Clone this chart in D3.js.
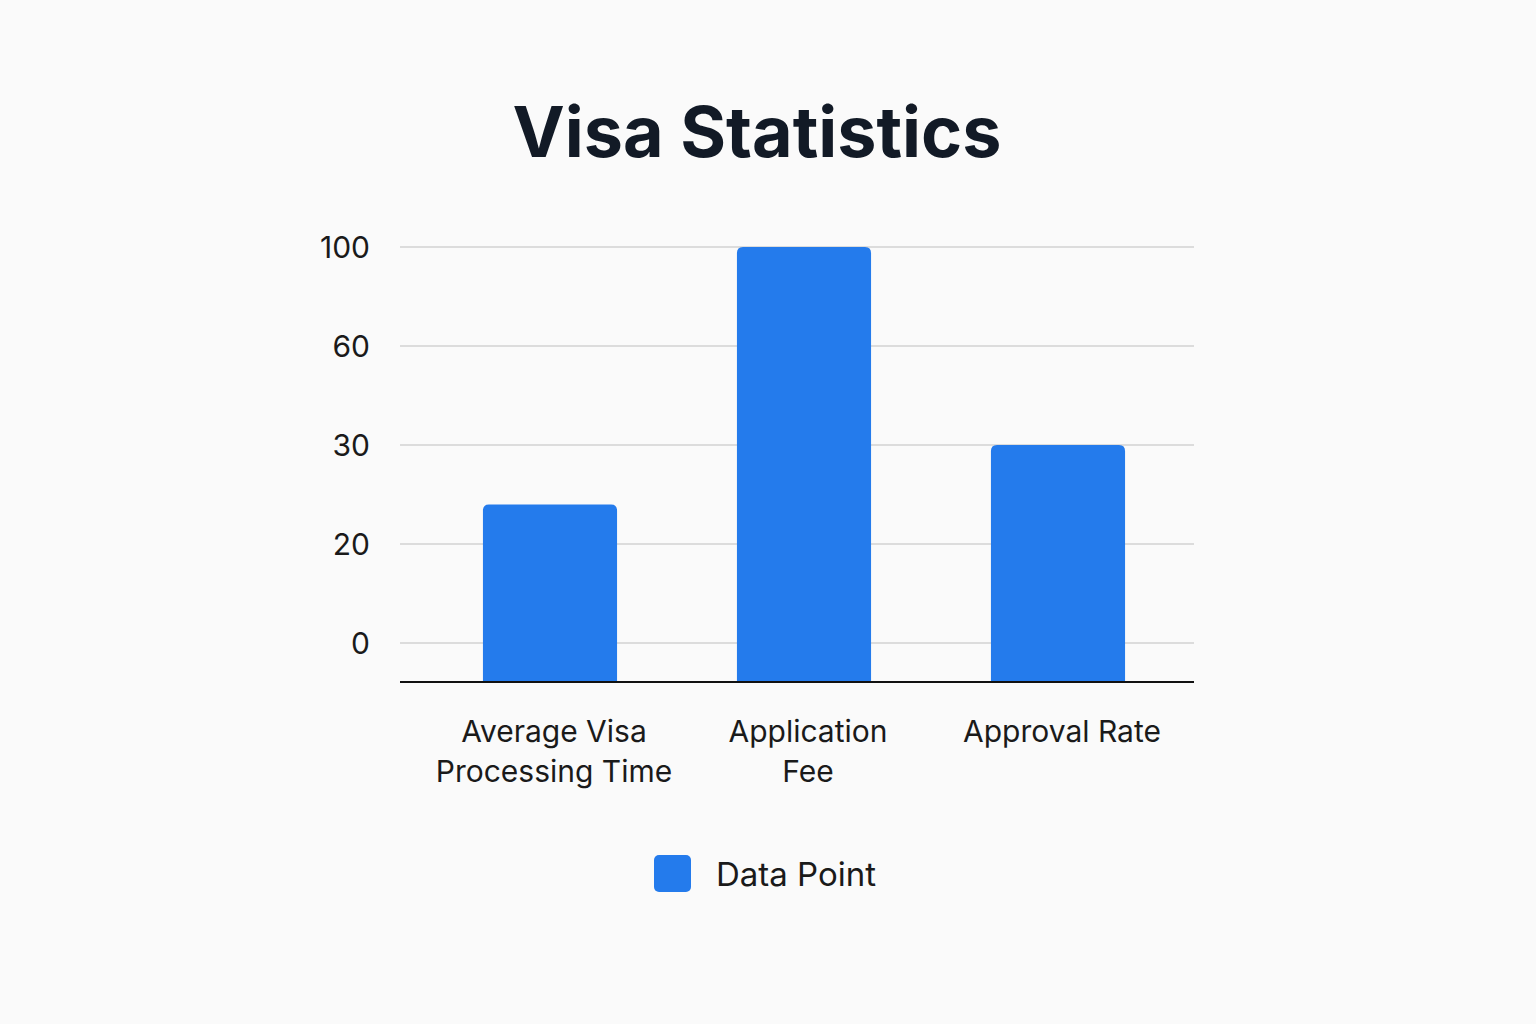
<!DOCTYPE html>
<html>
<head>
<meta charset="utf-8">
<script src="https://cdn.jsdelivr.net/npm/d3@7"></script>
<style>
  html, body { margin: 0; padding: 0; background: #fafafa; }
  svg { display: block; font-family: Inter, "Noto Sans", sans-serif; }
</style>
</head>
<body>
<div id="chart"></div>
<script>
// Datos del grafico
const categories = ["Average Visa\nProcessing Time", "Application\nFee", "Approval Rate"];
const values = [24, 100, 30];
const tickValues = [0, 20, 30, 60, 100];
const seriesName = "Data Point";

const width = 1536, height = 1024;
const BLUE = "#247bec";

const svg = d3.select("#chart").append("svg")
  .attr("width", width).attr("height", height);

svg.append("rect").attr("width", width).attr("height", height).attr("fill", "#fafafa");

// titulo
svg.append("text")
  .attr("x", 757).attr("y", 157).attr("text-anchor", "middle")
  .attr("font-size", "70px").attr("font-weight", "700").attr("fill", "#121a26")
  .text("Visa Statistics");

// eje Y con ticks equiespaciados (escala por tramos)
const plotLeft = 400, plotRight = 1194, baseline = 682;
const y = d3.scaleLinear()
  .domain(tickValues)
  .range(tickValues.map((_, i) => 643 - i * 99));

const x = d3.scaleBand()
  .domain(categories)
  .range([423, 1185])
  .paddingInner(0.472).paddingOuter(0.236);

// rejilla
svg.append("g").selectAll("line").data(tickValues).join("line")
  .attr("x1", plotLeft).attr("x2", plotRight)
  .attr("y1", d => y(d)).attr("y2", d => y(d))
  .attr("stroke", "#dcdcdc").attr("stroke-width", 2);

svg.append("g").selectAll("text").data(tickValues).join("text")
  .attr("x", 370).attr("y", d => y(d)).attr("dy", "0.36em")
  .attr("text-anchor", "end").attr("font-size", "30px").attr("fill", "#1a1a1a")
  .text(d => d);

// barras (desde la linea base)
svg.append("g").selectAll("path").data(categories).join("path")
  .attr("d", (c, i) => {
    const x0 = x(c), w = x.bandwidth(), top = y(values[i]), r = 6;
    return `M${x0},${baseline}V${top + r}Q${x0},${top} ${x0 + r},${top}H${x0 + w - r}Q${x0 + w},${top} ${x0 + w},${top + r}V${baseline}Z`;
  })
  .attr("fill", BLUE);

// linea base
svg.append("line")
  .attr("x1", plotLeft).attr("x2", plotRight)
  .attr("y1", baseline).attr("y2", baseline)
  .attr("stroke", "#111").attr("stroke-width", 2);

// etiquetas de categoria
const lab = svg.append("g").selectAll("text").data(categories).join("text")
  .attr("x", c => x(c) + x.bandwidth() / 2 + 4)
  .attr("y", 742)
  .attr("text-anchor", "middle").attr("font-size", "30px").attr("fill", "#1a1a1a");
lab.each(function (c) {
  const t = d3.select(this);
  c.split("\n").forEach((line, k) => {
    t.append("tspan").attr("x", t.attr("x")).attr("dy", k === 0 ? 0 : 40).text(line);
  });
});

// leyenda
svg.append("rect")
  .attr("x", 654).attr("y", 855).attr("width", 37).attr("height", 37)
  .attr("rx", 5).attr("fill", BLUE);
svg.append("text")
  .attr("x", 716).attr("y", 874).attr("dy", "0.36em")
  .attr("font-size", "33px").attr("fill", "#1a1a1a")
  .text(seriesName);
</script>
</body>
</html>
